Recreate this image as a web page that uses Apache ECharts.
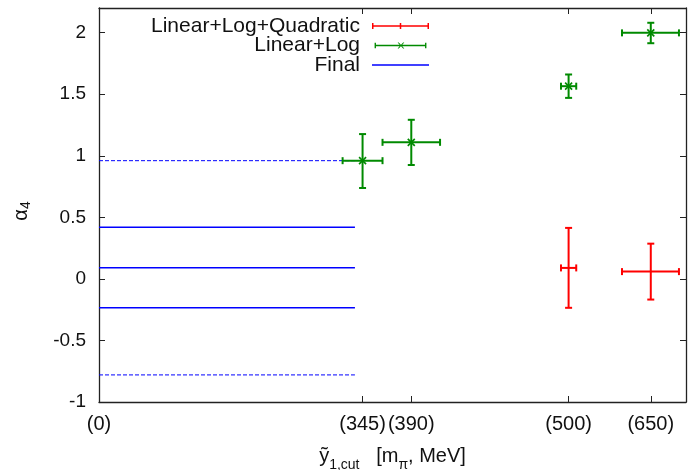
<!DOCTYPE html>
<html>
<head>
<meta charset="utf-8">
<script src="https://cdn.jsdelivr.net/npm/echarts@6/dist/echarts.min.js"></script>
<style>
  html, body { margin: 0; padding: 0; background: #fff; }
  #chart { width: 688px; height: 470px; }
</style>
</head>
<body>
<div id="chart"></div>
<script>
// ---- data ----
// x tick labels and their positions on the (non-linear) x scale
var xTickLabels = ['(0)', '(345)', '(390)', '(500)', '(650)'];
var xTickPos = [0, 44.9, 53.2, 80.0, 94.0];

// Linear+Log+Quadratic
var quadX = [80.0, 94.0];
var quadY = [0.089, 0.059];
var quadXLow = [78.7, 89.1];
var quadXHigh = [81.3, 98.8];
var quadYLow = [-0.235, -0.168];
var quadYHigh = [0.414, 0.286];

// Linear+Log
var linlogX = [44.9, 53.2, 80.0, 94.0];
var linlogY = [0.96, 1.109, 1.565, 1.998];
var linlogXLow = [41.5, 48.3, 78.7, 89.1];
var linlogXHigh = [48.3, 58.1, 81.3, 98.8];
var linlogYLow = [0.738, 0.925, 1.47, 1.914];
var linlogYHigh = [1.176, 1.292, 1.66, 2.08];

// Final
var finalSolid = [0.42, 0.09, -0.235];
var finalDashed = [0.96, -0.78];
var finalXStart = 0;
var finalXEnd = 43.6;

var yTicks = [-1, -0.5, 0, 0.5, 1, 1.5, 2];

// ---- build ----
var FONT = '"Liberation Sans", Arial, Helvetica, sans-serif';
var RED = '#ff0000', GREEN = '#008a00', BLUE = '#0000ff';

function zipErr(x, y, xl, xh, yl, yh) {
  return x.map(function (v, i) { return [v, y[i], xl[i], xh[i], yl[i], yh[i]]; });
}

function errRenderer(color, marker) {
  return function (params, api) {
    var x = api.value(0), y = api.value(1);
    var c = api.coord([x, y]);
    var pxl = api.coord([api.value(2), y])[0];
    var pxh = api.coord([api.value(3), y])[0];
    var pyl = api.coord([x, api.value(4)])[1];
    var pyh = api.coord([x, api.value(5)])[1];
    var cap = 3.5;
    var st = { stroke: color, lineWidth: 2, fill: null };
    var lines = [
      [pxl, c[1], pxh, c[1]],
      [pxl, c[1] - cap, pxl, c[1] + cap],
      [pxh, c[1] - cap, pxh, c[1] + cap],
      [c[0], pyl, c[0], pyh],
      [c[0] - cap, pyl, c[0] + cap, pyl],
      [c[0] - cap, pyh, c[0] + cap, pyh]
    ];
    var children = lines.map(function (l) {
      return { type: 'line', shape: { x1: l[0], y1: l[1], x2: l[2], y2: l[3] }, style: st };
    });
    if (marker === 'x') {
      var m = 3.5;
      children.push({ type: 'line', shape: { x1: c[0] - m, y1: c[1] - m, x2: c[0] + m, y2: c[1] + m }, style: { stroke: color, lineWidth: 1.6 } });
      children.push({ type: 'line', shape: { x1: c[0] - m, y1: c[1] + m, x2: c[0] + m, y2: c[1] - m }, style: { stroke: color, lineWidth: 1.6 } });
    }
    return { type: 'group', children: children };
  };
}

function hlineRenderer(dashed) {
  return function (params, api) {
    var y = api.value(0);
    var p1 = api.coord([finalXStart, y]);
    var p2 = api.coord([finalXEnd, y]);
    return {
      type: 'line',
      shape: { x1: p1[0], y1: p1[1], x2: p2[0], y2: p2[1] },
      style: { stroke: BLUE, lineWidth: dashed ? 1 : 1.5, lineDash: dashed ? [4, 2] : null, fill: null }
    };
  };
}

var iconRed = 'path://M0,0h1.5v6h-1.5Z M55.5,0h1.5v6h-1.5Z M0,2.25h57v1.5h-57Z M27.75,0h1.5v6h-1.5Z';
var iconGreen = 'path://M0,0h1.5v6h-1.5Z M55.5,0h1.5v6h-1.5Z M0,2.25h57v1.5h-57Z M25.3,-0.3L26.6,-0.3L32.7,6.3L31.4,6.3Z M31.4,-0.3L32.7,-0.3L26.6,6.3L25.3,6.3Z';
var iconBlue = 'path://M0,0h57v1.5h-57Z';

var tickStyle = { show: true, inside: true, length: 6, lineStyle: { color: '#222', width: 1 } };
var lineStyleAxis = { show: true, onZero: false, lineStyle: { color: '#222', width: 1.3 } };

var option = {
  animation: false,
  backgroundColor: '#fff',
  textStyle: { fontFamily: FONT },
  grid: { left: 99, right: 2, top: 8, bottom: 68, containLabel: false, outerBoundsMode: 'none' },
  legend: {
    orient: 'vertical',
    align: 'right',
    right: 259,
    top: 15.5,
    padding: 0,
    itemGap: -1.5,
    itemWidth: 57,
    itemHeight: 6,
    selectedMode: false,
    itemStyle: { borderWidth: 0 },
    textStyle: { fontSize: 21, color: '#111', fontFamily: FONT, lineHeight: 19, padding: [0, 7, 0, 0] },
    data: [
      { name: 'Linear+Log+Quadratic', icon: iconRed },
      { name: 'Linear+Log', icon: iconGreen },
      { name: 'Final', icon: iconBlue }
    ]
  },
  xAxis: [{
    type: 'value', min: 0, max: 100, position: 'bottom',
    axisLine: lineStyleAxis,
    axisTick: Object.assign({}, tickStyle, { customValues: xTickPos.slice(1) }),
    splitLine: { show: false },
    axisLabel: {
      customValues: xTickPos,
      margin: 12, fontSize: 20, color: '#111', fontFamily: FONT,
      formatter: function (v) {
        var i = xTickPos.indexOf(v);
        return i >= 0 ? xTickLabels[i] : '';
      }
    },
    name: '{a|ỹ}{s|1,cut}{a|   [m}{s|π}{a|, MeV]}',
    nameLocation: 'middle',
    nameGap: 38,
    nameTextStyle: {
      rich: {
        a: { fontSize: 20, color: '#111', fontFamily: FONT, lineHeight: 32, verticalAlign: 'middle' },
        s: { fontSize: 14, color: '#111', fontFamily: FONT, lineHeight: 14, verticalAlign: 'bottom' }
      }
    }
  }, {
    type: 'value', min: 0, max: 100, position: 'top',
    axisLine: lineStyleAxis,
    axisTick: Object.assign({}, tickStyle, { customValues: xTickPos.slice(1) }),
    axisLabel: { show: false },
    splitLine: { show: false }
  }],
  yAxis: [{
    type: 'value', min: -1, max: 2.2, interval: 0.5, position: 'left',
    axisLine: lineStyleAxis,
    axisTick: tickStyle,
    splitLine: { show: false },
    axisLabel: {
      margin: 13, fontSize: 19, color: '#111', fontFamily: FONT, showMaxLabel: false,
      formatter: function (v) { return yTicks.indexOf(v) >= 0 ? String(v) : ''; }
    },
    name: '{a|α}{s|4}',
    nameLocation: 'middle',
    nameGap: 66,
    nameRotate: 90,
    nameTextStyle: {
      rich: {
        a: { fontSize: 20, color: '#111', fontFamily: FONT, lineHeight: 24, verticalAlign: 'middle' },
        s: { fontSize: 14, color: '#111', fontFamily: FONT, lineHeight: 14, verticalAlign: 'bottom', padding: [0, 12, 0, 0] }
      }
    }
  }, {
    type: 'value', min: -1, max: 2.2, interval: 0.5, position: 'right',
    axisLine: lineStyleAxis,
    axisTick: tickStyle,
    axisLabel: { show: false },
    splitLine: { show: false }
  }],
  series: [
    {
      name: 'Final', type: 'custom', xAxisIndex: 0, yAxisIndex: 0,
      itemStyle: { color: BLUE },
      renderItem: hlineRenderer(false),
      encode: { y: 0 },
      data: finalSolid.map(function (v) { return [v]; }),
      z: 2
    },
    {
      name: 'Final', type: 'custom', xAxisIndex: 0, yAxisIndex: 0,
      itemStyle: { color: BLUE },
      renderItem: hlineRenderer(true),
      encode: { y: 0 },
      data: finalDashed.map(function (v) { return [v]; }),
      z: 2
    },
    {
      name: 'Linear+Log+Quadratic', type: 'custom', xAxisIndex: 0, yAxisIndex: 0,
      itemStyle: { color: RED },
      renderItem: errRenderer(RED, '+'),
      encode: { x: 0, y: 1 },
      data: zipErr(quadX, quadY, quadXLow, quadXHigh, quadYLow, quadYHigh),
      z: 3
    },
    {
      name: 'Linear+Log', type: 'custom', xAxisIndex: 0, yAxisIndex: 0,
      itemStyle: { color: GREEN },
      renderItem: errRenderer(GREEN, 'x'),
      encode: { x: 0, y: 1 },
      data: zipErr(linlogX, linlogY, linlogXLow, linlogXHigh, linlogYLow, linlogYHigh),
      z: 4
    }
  ]
};

var chart = echarts.init(document.getElementById('chart'), null, { renderer: 'canvas' });
chart.setOption(option);
</script>
</body>
</html>
